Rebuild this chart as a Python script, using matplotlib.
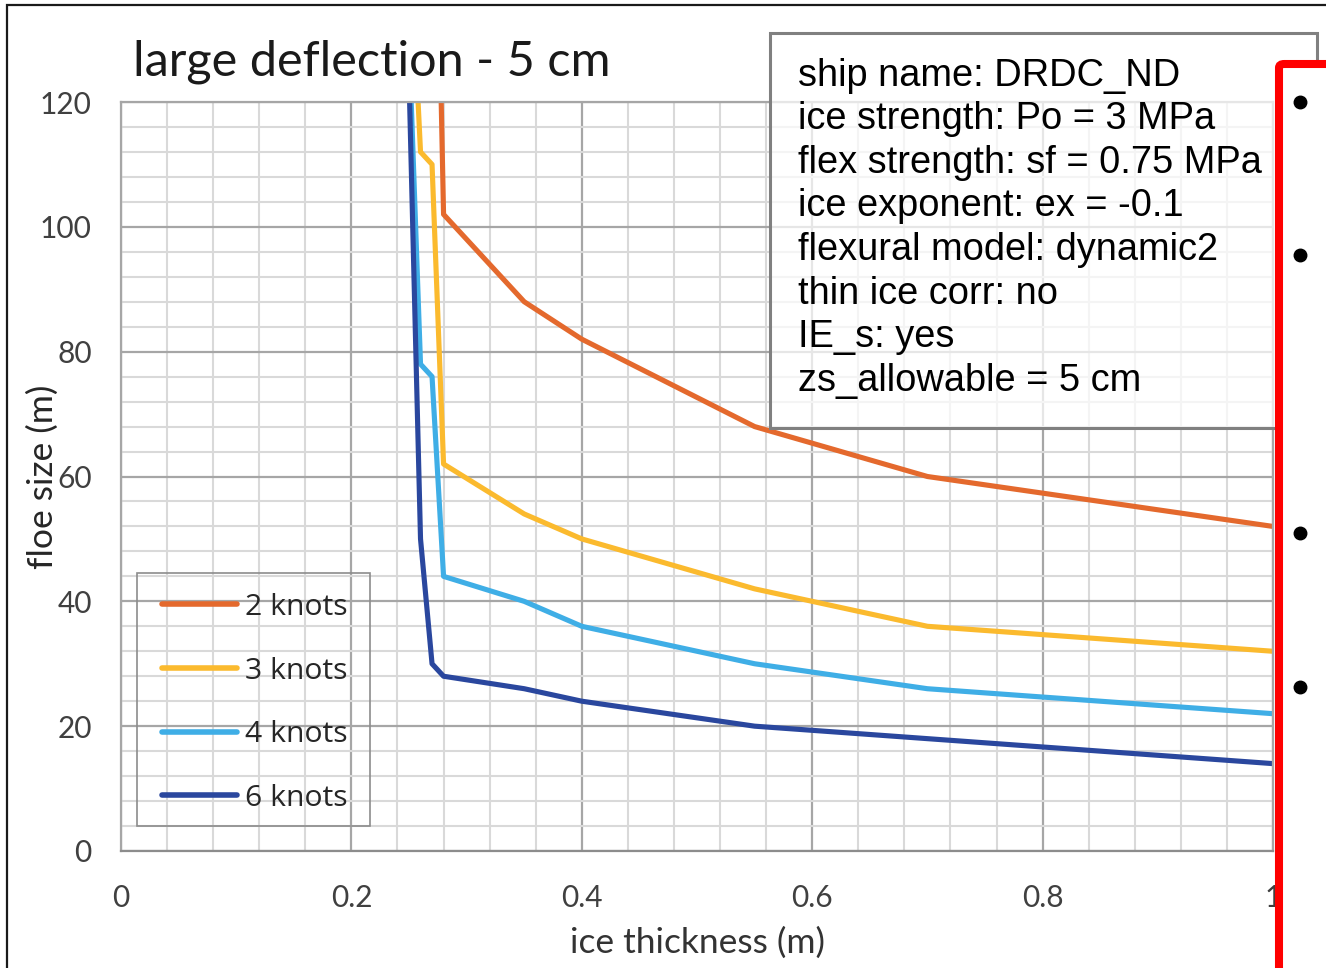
import numpy as np
import matplotlib
matplotlib.use("Agg")
import matplotlib.pyplot as plt
from matplotlib.patches import Rectangle, FancyBboxPatch
from matplotlib.lines import Line2D
from matplotlib.ticker import MultipleLocator

# data (ice thickness in m, floe size in m)
thickness = [0.25, 0.26, 0.27, 0.28, 0.35, 0.40, 0.55, 0.70, 1.00]
knots_2 = [np.nan, np.nan, 190, 102, 88, 82, 68, 60, 52]
knots_3 = [150, 112, 110, 62, 54, 50, 42, 36, 32]
knots_4 = [130, 78, 76, 44, 40, 36, 30, 26, 22]
knots_6 = [124, 50, 30, 28, 26, 24, 20, 18, 14]

series_labels = ["2 knots", "3 knots", "4 knots", "6 knots"]
series_colors = ["#E4692D", "#FBBA2E", "#3FAEE6", "#2A479E"]

info_lines = [
    "ship name: DRDC_ND",
    "ice strength: Po = 3 MPa",
    "flex strength: sf = 0.75 MPa",
    "ice exponent: ex = -0.1",
    "flexural model: dynamic2",
    "thin ice corr: no",
    "IE_s: yes",
    "zs_allowable = 5 cm",
]

W, H = 1326, 968
fig = plt.figure(figsize=(W / 100, H / 100), dpi=100)
ax = fig.add_axes([121 / W, 1 - 851 / H, (1273 - 121) / W, (851 - 102) / H])

for ys, lab, col in zip([knots_2, knots_3, knots_4, knots_6], series_labels, series_colors):
    ax.plot(thickness, ys, color=col, lw=3.7, label=lab, solid_capstyle="round")

ax.set_xlim(0, 1)
ax.set_ylim(0, 120)
ax.xaxis.set_major_locator(MultipleLocator(0.2))
ax.xaxis.set_minor_locator(MultipleLocator(0.04))
ax.yaxis.set_major_locator(MultipleLocator(20))
ax.yaxis.set_minor_locator(MultipleLocator(4))
ax.grid(which="minor", color="#D9D9D9", lw=1.5)
ax.grid(which="major", color="#A6A6A6", lw=1.6)
ax.set_axisbelow(True)
for s in ax.spines.values():
    s.set_color("#A6A6A6")
    s.set_linewidth(1.6)
ax.spines["bottom"].set_color("#8C8C8C")

tick_font = "Lato"
ax.tick_params(which="both", length=0)
ax.tick_params(axis="x", pad=24, labelsize=21.5, labelcolor="#404040")
ax.tick_params(axis="y", pad=21, labelsize=21.5, labelcolor="#404040")
ax.set_xticks([0, 0.2, 0.4, 0.6, 0.8, 1.0], ["0", "0.2", "0.4", "0.6", "0.8", "1"])
for t in ax.get_xticklabels() + ax.get_yticklabels():
    t.set_fontfamily(tick_font)

ax.set_xlabel("ice thickness (m)", fontsize=25.5, family=tick_font, color="#333333", labelpad=10)
ax.set_ylabel("floe size (m)", fontsize=25.5, family=tick_font, color="#262626")
ax.yaxis.set_label_coords(-(121 - 59) / 1152, 0.5)

fig.text(372 / W, 1 - 62 / H, "large deflection - 5 cm", fontsize=35, family=tick_font,
         ha="center", va="center", color="#1A1A1A")

# legend: entries without frame, frame drawn separately to match the Excel box
leg = ax.legend(loc="upper left", bbox_to_anchor=((162 - 121) / 1152, (851 - 593) / 749),
                borderaxespad=0, frameon=False, borderpad=0,
                prop={"family": "Open Sans", "size": 21.7}, handlelength=2.5, handletextpad=0.27,
                labelspacing=1.15)
for line in leg.get_lines():
    line.set_linewidth(4.0)
for t in leg.get_texts():
    t.set_color("#262626")
ax.add_patch(Rectangle(((137 - 121) / 1152, (851 - 826) / 749), (370 - 137) / 1152, (826 - 573) / 749,
                       transform=ax.transAxes, facecolor="none", edgecolor="#8C8C8C", lw=1.2,
                       zorder=4))

# info box over the plot
fig.patches.append(Rectangle((770 / W, 1 - 428 / H), (1317 - 770) / W, (428 - 33) / H,
                             transform=fig.transFigure, facecolor=(1, 1, 1, 0.72),
                             edgecolor="#808080", lw=2.2, zorder=5))
for i, line in enumerate(info_lines):
    fig.text(798 / W, 1 - (75.5 + i * 43.6) / H, line, fontsize=27.4, family="Liberation Sans",
             ha="left", va="center", color="black", zorder=6)

# cropped slide content on the right (red frame with bullets)
fig.patches.append(FancyBboxPatch((1279 / W, -0.1), 0.2, (1 - 64 / H) + 0.1,
                                  boxstyle="round,pad=0,rounding_size=0.004",
                                  transform=fig.transFigure, facecolor="white",
                                  edgecolor="#FF0000", lw=5.8, zorder=7))
for by in [102, 255, 533, 687]:
    fig.add_artist(Line2D([1300 / W], [1 - by / H], marker="o", ms=9, color="black",
                          transform=fig.transFigure, zorder=8))

# black frame of the screenshot
fig.patches.append(Rectangle((7 / W, -0.1), 1.2, (1 - 5 / H) + 0.1, transform=fig.transFigure,
                             facecolor="none", edgecolor="#1A1A1A", lw=1.6, zorder=9))

fig.savefig("out.png", dpi=100)
